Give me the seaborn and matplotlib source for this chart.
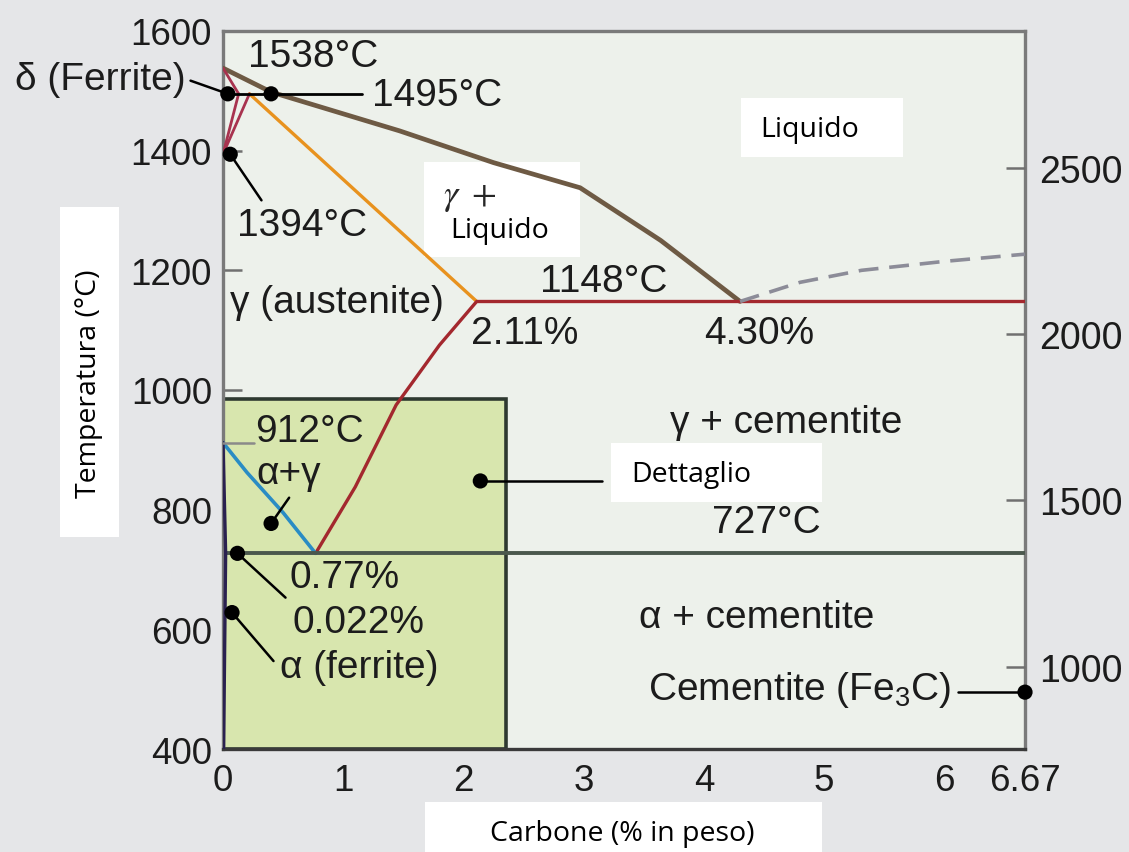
import matplotlib
matplotlib.use("Agg")
import matplotlib.pyplot as plt
from matplotlib.patches import Rectangle
import seaborn as sns

# ---- phase boundaries (wt% C, °C) ----
liq_c = [0, 0.40, 1.47, 2.25, 2.97, 3.64, 4.30]
liq_t = [1538, 1498, 1433, 1380, 1338, 1250, 1148]

sol_c = [0.22, 2.11]
sol_t = [1495, 1148]

eut_c = [2.11, 6.67]
eut_t = [1148, 1148]

acm_c = [0.77, 1.10, 1.44, 1.80, 2.11]
acm_t = [727, 838, 975, 1075, 1148]

a3_c = [0, 0.20, 0.50, 0.77]
a3_t = [912, 862, 795, 727]

ferr_c = [0, 0.022, 0.005]
ferr_t = [912, 727, 400]

eutd_c = [0.022, 6.67]
eutd_t = [727, 727]

gr_c = [4.30, 4.80, 5.31, 6.00, 6.67]
gr_t = [1148, 1180, 1200, 1215, 1227]

delta_a_c = [0, 0.13]
delta_a_t = [1538, 1495]
delta_b_c = [0.13, 0]
delta_b_t = [1495, 1394]
delta_c_c = [0.22, 0]
delta_c_t = [1495, 1394]

peri_c = [0.04, 1.16]
peri_t = [1495, 1495]

# marked points
dot_c = [0.04, 0.40, 0.06, 0.40, 0.12, 0.075, 2.14, 6.67]
dot_t = [1495, 1495, 1394, 777, 727, 628, 848, 495]

x_ticks = [0, 1, 2, 3, 4, 5, 6, 6.67]
x_labels = ["0", "1", "2", "3", "4", "5", "6", "6.67"]
y_ticks = [400, 600, 800, 1000, 1200, 1400, 1600]
f_ticks = [1000, 1500, 2000, 2500]

detail_c = 2.35
detail_t = 985

W, H = 1129, 853
sns.set_theme(style="white")
plt.rcParams["font.family"] = ["Liberation Sans", "DejaVu Sans"]
plt.rcParams["mathtext.fontset"] = "custom"
plt.rcParams["mathtext.rm"] = "Liberation Sans"
plt.rcParams["mathtext.it"] = "Liberation Sans:italic"

fig = plt.figure(figsize=(W / 100, H / 100), dpi=100)
fig.patch.set_facecolor("#e5e6e8")
ax = fig.add_axes([223 / W, 1 - 750 / H, (1025 - 223) / W, (750 - 32) / H])
ax.set_facecolor("#edf1eb")
ax.set_xlim(0, 6.67)
ax.set_ylim(400, 1600)

# detail window
ax.add_patch(Rectangle((0, 400), detail_c, detail_t - 400, facecolor="#d8e6ae",
                       edgecolor="#2e3930", lw=2.6, zorder=1))


def line(cs, ts, color, lw, z=3, **kw):
    sns.lineplot(x=cs, y=ts, ax=ax, color=color, lw=lw, sort=False,
                 estimator=None, zorder=z, legend=False, **kw)


line(liq_c, liq_t, "#6e5a44", 3.4)
line(sol_c, sol_t, "#e8921e", 2.4)
line(eut_c, eut_t, "#a3282e", 2.4)
line(acm_c, acm_t, "#a3282e", 2.4)
line(a3_c, a3_t, "#2a8cc4", 2.6)
line(eutd_c, eutd_t, "#4b584d", 2.8)
line(ferr_c, ferr_t, "#2a2150", 2.4)
line(delta_a_c, delta_a_t, "#a8334f", 2.0)
line(delta_b_c, delta_b_t, "#a8334f", 2.0)
line(delta_c_c, delta_c_t, "#a8334f", 2.0)
line(gr_c, gr_t, "#8c8c98", 2.6, dashes=[(5.5, 3)], style=[0] * len(gr_c))
line(peri_c, peri_t, "black", 2.0, z=4)

# leader lines
leaders = [
    ([-0.27, 0.04], [1517, 1495]),
    ([0.06, 0.32], [1394, 1317]),
    ([0.40, 0.55], [777, 820]),
    ([0.12, 0.52], [727, 653]),
    ([0.075, 0.42], [628, 547]),
    ([2.14, 3.15], [848, 848]),
    ([6.11, 6.67], [495, 495]),
]
for cs, ts in leaders:
    ax.plot(cs, ts, color="black", lw=1.8, zorder=4, clip_on=False)
ax.plot([0, 0.26], [912, 912], color="#8a8a8a", lw=1.8, zorder=4)

sns.scatterplot(x=dot_c, y=dot_t, ax=ax, color="black", s=120, zorder=6,
                edgecolor="none", clip_on=False, legend=False)


# white caption boxes and their text, placed in pixel units
def px_box(x0, y0, x1, y1):
    fig.add_artist(Rectangle((x0 / W, 1 - y1 / H), (x1 - x0) / W, (y1 - y0) / H,
                             transform=fig.transFigure, facecolor="white",
                             edgecolor="none", zorder=2))


def px_text(x, y, s, **kw):
    fig.text(x / W, 1 - y / H, s, zorder=7, **kw)


def ax_box(x0, y0, x1, y1):
    c0 = (x0 - 223) / 120.24
    c1 = (x1 - 223) / 120.24
    t0 = 400 + (750 - y1) / 0.5983
    t1 = 400 + (750 - y0) / 0.5983
    ax.add_patch(Rectangle((c0, t0), c1 - c0, t1 - t0, facecolor="white",
                           edgecolor="none", zorder=2))


ax.set_zorder(1)
px_box(60, 208, 119, 538)
px_box(425, 803, 822, 853)
ax_box(741, 99, 903, 158)
ax_box(424, 163, 580, 258)
ax_box(611, 444, 822, 503)

cal = dict(family=["Open Sans", "DejaVu Sans"], fontsize=20.5, color="black")
px_text(89, 384, "Temperatura (°C)", rotation=90, ha="center", va="center", **cal)
px_text(622, 834, "Carbone (% in peso)", ha="center", va="center", **cal)
px_text(760, 130, "Liquido", ha="left", va="center", **cal)
px_text(450, 231, "Liquido", ha="left", va="center", **cal)
px_text(443, 197, r"$\gamma\ +$", ha="left", va="center", fontsize=26,
        math_fontfamily="stix")
px_text(631, 475, "Dettaglio", ha="left", va="center", **cal)

# diagram annotations
lab = dict(fontsize=28, color="#1c1c1c", zorder=7)
ax.text(0.21, 1558, "1538°C", ha="left", va="center", **lab)
ax.text(-0.31, 1520, "δ (Ferrite)", ha="right", va="center", clip_on=False, **lab)
ax.text(1.24, 1493, "1495°C", ha="left", va="center", **lab)
ax.text(0.12, 1275, "1394°C", ha="left", va="center", **lab)
ax.text(0.06, 1147, "γ (austenite)", ha="left", va="center", **lab)
ax.text(2.64, 1183, "1148°C", ha="left", va="center", **lab)
ax.text(2.06, 1095, "2.11%", ha="left", va="center", **lab)
ax.text(4.00, 1095, "4.30%", ha="left", va="center", **lab)
ax.text(4.68, 947, "γ + cementite", ha="center", va="center", **lab)
ax.text(4.52, 780, "727°C", ha="center", va="center", **lab)
ax.text(4.44, 620, "α + cementite", ha="center", va="center", **lab)
ax.text(6.06, 500, "Cementite (Fe$_3$C)", ha="right", va="center", **lab)
ax.text(0.27, 932, "912°C", ha="left", va="center", **lab)
ax.text(0.28, 862, "α+γ", ha="left", va="center", **lab)
ax.text(0.55, 687, "0.77%", ha="left", va="center", **lab)
ax.text(0.58, 612, "0.022%", ha="left", va="center", **lab)
ax.text(0.47, 537, "α (ferrite)", ha="left", va="center", **lab)

# axes, ticks
ax.set_xticks(x_ticks)
ax.set_xticklabels(x_labels)
ax.set_yticks(y_ticks)
ax.tick_params(axis="both", direction="in", length=14, width=1.8, color="#707070",
               labelsize=26.5, labelcolor="#1c1c1c")
ax.tick_params(axis="x", pad=10)
ax.tick_params(axis="y", pad=8)
for s in ax.spines.values():
    s.set_color("#7a7a7a")
    s.set_linewidth(2.4)
ax.spines["bottom"].set_color("#3a3a3a")

axf = ax.twinx()
axf.set_ylim(400 * 9 / 5 + 32, 1600 * 9 / 5 + 32)
axf.set_yticks(f_ticks)
axf.tick_params(axis="y", direction="in", length=14, width=1.8, color="#707070",
                labelsize=27, labelcolor="#1c1c1c", pad=10)
for s in axf.spines.values():
    s.set_visible(False)
axf.grid(False)
ax.grid(False)

fig.savefig("out.png", dpi=100, facecolor=fig.get_facecolor())
